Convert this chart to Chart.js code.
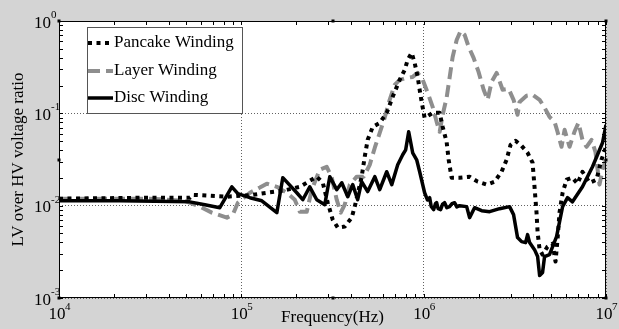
<!DOCTYPE html>
<html><head><meta charset="utf-8">
<script src="https://cdn.jsdelivr.net/npm/chart.js@4/dist/chart.umd.min.js"></script>
<style>
html,body{margin:0;padding:0;background:#d4d4d4;overflow:hidden;}
#wrap{width:619px;height:329px;position:relative;}
</style></head><body>
<div id="wrap"><canvas id="c" width="619" height="329"></canvas></div>
<script>
// ---- data (frequency in Hz, LV/HV voltage ratio) ----
const seriesNames = ['Pancake Winding', 'Layer Winding', 'Disc Winding'];
const xDecades = [1e4, 1e5, 1e6, 1e7];
const yDecades = [1e-3, 1e-2, 1e-1, 1];
const xTitle = 'Frequency(Hz)';
const yTitle = 'LV over HV voltage ratio';

const pancakePoints = [
 [1e4,0.0119],[3.15e4,0.0122],[5.22e4,0.0122],[5.42e4,0.0131],[8.33e4,0.0125],[1.156e5,0.0131],
 [1.38e5,0.0138],[1.688e5,0.0145],[2.093e5,0.0160],[2.592e5,0.0206],[2.797e5,0.0177],[2.978e5,0.01077],
 [3.17e5,0.00706],[3.38e5,0.00578],[3.69e5,0.00593],[4.029e5,0.00742],[4.188e5,0.00976],[4.571e5,0.0206],
 [4.751e5,0.0339],[4.932e5,0.0517],[5.26e5,0.0715],[5.741e5,0.0789],[6.27e5,0.1012],[6.761e5,0.151],
 [7.383e5,0.230],[7.869e5,0.295],[8.17e5,0.379],[8.591e5,0.451],[8.925e5,0.352],[9.275e5,0.248],
 [9.507e5,0.180],[9.75e5,0.133],[1.012e6,0.0894],[1.079e6,0.0964],[1.12e6,0.1012],[1.224e6,0.1012],
 [1.271e6,0.0715],[1.336e6,0.0492],[1.371e6,0.0314],[1.423e6,0.0201],[1.574e6,0.0201],[1.786e6,0.0206],
 [1.977e6,0.0182],[2.213e6,0.0169],[2.449e6,0.0182],[2.675e6,0.0233],[2.849e6,0.0314],[2.997e6,0.0457],
 [3.192e6,0.0504],[3.443e6,0.0445],[3.715e6,0.0374],[3.956e6,0.0292],[4.055e6,0.0160],[4.159e6,0.0084],
 [4.217e6,0.00511],[4.325e6,0.00334],[4.488e6,0.00295],[4.779e6,0.0036],[5.093e6,0.00388],[5.286e6,0.00248],
 [5.421e6,0.00429],[5.56e6,0.0084],[5.781e6,0.0138],[6.08e6,0.0191],[6.548e6,0.0201],[6.98e6,0.0173],
 [7.43e6,0.0233],[8.13e6,0.0177],[8.87e6,0.0191],[9.44e6,0.0314],[1e7,0.0434]
];

const layerPoints = [
 [1e4,0.0119],[3.15e4,0.0119],[4.9e4,0.0113],[5.92e4,0.00976],[6.89e4,0.0084],[8.33e4,0.00742],
 [8.98e4,0.0080],[9.57e4,0.01077],[1.114e5,0.0138],[1.263e5,0.0157],[1.38e5,0.0173],[1.566e5,0.0160],
 [1.775e5,0.0138],[1.964e5,0.0116],[2.093e5,0.0086],[2.285e5,0.0086],[2.434e5,0.0149],[2.692e5,0.0245],
 [2.94e5,0.0264],[3.134e5,0.0201],[3.335e5,0.0116],[3.51e5,0.0084],[3.69e5,0.01025],[3.934e5,0.0169],
 [4.295e5,0.0206],[4.69e5,0.0206],[5.06e5,0.0277],[5.395e5,0.0424],[5.741e5,0.0615],[6.111e5,0.0894],
 [6.51e5,0.140],[6.935e5,0.203],[7.383e5,0.230],[8.068e5,0.242],[8.705e5,0.248],[9.275e5,0.274],
 [9.88e5,0.230],[1.052e6,0.167],[1.12e6,0.1175],[1.178e6,0.0809],[1.224e6,0.0631],[1.271e6,0.0964],
 [1.336e6,0.147],[1.387e6,0.242],[1.442e6,0.408],[1.517e6,0.623],[1.595e6,0.780],[1.678e6,0.706],
 [1.765e6,0.524],[1.879e6,0.398],[2.0e6,0.281],[2.133e6,0.180],[2.243e6,0.140],[2.358e6,0.219],
 [2.512e6,0.274],[2.71e6,0.180],[2.924e6,0.184],[3.112e6,0.140],[3.273e6,0.0964],[3.357e6,0.133],
 [3.665e6,0.155],[3.956e6,0.159],[4.325e6,0.140],[4.545e6,0.1205],[4.899e6,0.0917],[5.224e6,0.0809],
 [5.421e6,0.0631],[5.702e6,0.0434],[5.929e6,0.0663],[6.31e6,0.0434],[6.714e6,0.0631],[7.063e6,0.0789],
 [7.43e6,0.0517],[7.82e6,0.0434],[8.33e6,0.0517],[8.75e6,0.0383],[9.21e6,0.0169],[9.57e6,0.0245],[1e7,0.0314]
];

const discPoints = [
 [1e4,0.0113],[2.16e4,0.0113],[5.22e4,0.0110],[6.31e4,0.01025],[7.62e4,0.00951],[8.87e4,0.0160],
 [9.57e4,0.0135],[1.114e5,0.0122],[1.295e5,0.0113],[1.566e5,0.0084],[1.688e5,0.0201],[2.014e5,0.0138],
 [2.173e5,0.0116],[2.373e5,0.0160],[2.592e5,0.0116],[2.869e5,0.01025],[3.055e5,0.0206],[3.335e5,0.0149],
 [3.555e5,0.0177],[3.835e5,0.0125],[4.083e5,0.0169],[4.346e5,0.0116],[4.571e5,0.0182],[4.932e5,0.0142],
 [5.395e5,0.0206],[5.741e5,0.0149],[6.27e5,0.0233],[6.683e5,0.0169],[7.206e5,0.0277],[7.674e5,0.0356],
 [7.969e5,0.0403],[8.277e5,0.0631],[8.705e5,0.0374],[9.155e5,0.0314],[9.507e5,0.0233],[1.012e6,0.0138],
 [1.05e6,0.0115],[1.079e6,0.0122],[1.1e6,0.0098],[1.135e6,0.00906],[1.16e6,0.0105],[1.178e6,0.01077],
 [1.2e6,0.0093],[1.239e6,0.00906],[1.27e6,0.0104],[1.303e6,0.01077],[1.34e6,0.0095],[1.387e6,0.00976],
 [1.43e6,0.0105],[1.479e6,0.01077],[1.52e6,0.0097],[1.574e6,0.0100],[1.721e6,0.00976],[1.786e6,0.00742],
 [1.902e6,0.00951],[2.08e6,0.00883],[2.301e6,0.00861],[2.608e6,0.00928],[2.959e6,0.00976],[3.112e6,0.0080],
 [3.273e6,0.00451],[3.443e6,0.00408],[3.622e6,0.00398],[3.715e6,0.00486],[3.81e6,0.00398],[4.055e6,0.00334],
 [4.217e6,0.00281],[4.325e6,0.00175],[4.488e6,0.00189],[4.603e6,0.00281],[4.899e6,0.00295],[5.356e6,0.00462],
 [5.781e6,0.00976],[6.151e6,0.0122],[6.548e6,0.0110],[7.43e6,0.0160],[8.433e6,0.0264],[9.57e6,0.048],[1e7,0.0751]
];

// ---- helpers ----
const SERIF = "'Liberation Serif', 'Times New Roman', 'DejaVu Serif', serif";
function isDecade(v){ const l = Math.log10(v); return Math.abs(l - Math.round(l)) < 1e-9; }
function expOf(v){ return String(Math.round(Math.log10(v))); }
function allTicks(decades){
  const t = [];
  for (let i = 0; i < decades.length; i++) {
    t.push({value: decades[i]});
    if (i < decades.length - 1) for (let k = 2; k <= 9; k++) t.push({value: decades[i] * k});
  }
  return t;
}
const gridColor = (ctx) => (ctx.tick && isDecade(ctx.tick.value)) ? 'rgba(70,70,70,0.85)' : 'rgba(0,0,0,0)';

const decor = {
  id: 'decor',
  beforeDraw(chart) {
    const {ctx, chartArea: a} = chart;
    ctx.save();
    ctx.fillStyle = '#d4d4d4';
    ctx.fillRect(0, 0, chart.width, chart.height);
    ctx.fillStyle = '#ffffff';
    ctx.fillRect(a.left, a.top, a.right - a.left, a.bottom - a.top);
    ctx.restore();
  },
  afterDraw(chart) {
    const {ctx, chartArea: a} = chart;
    const xs = chart.scales.x, ys = chart.scales.y;
    ctx.save();
    ctx.setLineDash([]);
    ctx.strokeStyle = '#000';
    ctx.lineWidth = 1;
    // inward tick marks on all four sides
    ctx.beginPath();
    xs.ticks.forEach(t => {
      const px = Math.round(xs.getPixelForValue(t.value)) + 0.5;
      ctx.moveTo(px, a.bottom); ctx.lineTo(px, a.bottom - 4);
      ctx.moveTo(px, a.top); ctx.lineTo(px, a.top + 4);
    });
    ys.ticks.forEach(t => {
      const py = Math.round(ys.getPixelForValue(t.value)) + 0.5;
      ctx.moveTo(a.left, py); ctx.lineTo(a.left + 4, py);
      ctx.moveTo(a.right, py); ctx.lineTo(a.right - 4, py);
    });
    ctx.stroke();
    // plot frame
    ctx.strokeRect(a.left + 0.5, a.top + 0.5, a.right - a.left - 1, a.bottom - a.top - 1);
    // selection handles
    ctx.fillStyle = '#000';
    const mx = Math.round((a.left + a.right) / 2), my = Math.round((a.top + a.bottom) / 2);
    [[a.left, a.top],[mx, a.top],[a.right, a.top],[a.left, my],[a.right, my],[a.left, a.bottom],[mx, a.bottom],[a.right, a.bottom]]
      .forEach(([hx, hy]) => ctx.fillRect(hx - 1.5, hy - 1.5, 3, 3));

    // decade tick labels: "10" with raised exponent, placed by the scales
    ctx.fillStyle = '#000';
    ctx.textBaseline = 'alphabetic';
    xDecades.forEach(d => {
      const px = xs.getPixelForValue(d);
      ctx.font = '17px ' + SERIF;
      ctx.textAlign = 'center';
      ctx.fillText('10', px - 2, a.bottom + 21);
      ctx.font = '11px ' + SERIF;
      ctx.textAlign = 'left';
      ctx.fillText(expOf(d), px + 6, a.bottom + 12);
    });
    yDecades.forEach(d => {
      const py = ys.getPixelForValue(d);
      ctx.font = '17px ' + SERIF;
      ctx.textAlign = 'right';
      ctx.fillText('10', a.left - 8, py + 6.5);
      ctx.font = '11px ' + SERIF;
      ctx.textAlign = 'left';
      ctx.fillText(expOf(d), a.left - 8, py - 3);
    });

    // legend box
    const L = {x: a.left + 28, y: a.top + 6, w: 155, h: 86};
    ctx.fillStyle = '#fff';
    ctx.fillRect(L.x, L.y, L.w, L.h);
    ctx.strokeStyle = '#555';
    ctx.strokeRect(L.x + 0.5, L.y + 0.5, L.w, L.h);
    const rowY = [L.y + 16, L.y + 44, L.y + 71];
    chart.data.datasets.forEach((ds, i) => {
      const y = rowY[i];
      ctx.save();
      ctx.strokeStyle = ds.borderColor;
      ctx.lineWidth = ds.borderWidth;
      ctx.setLineDash(ds.borderDash || []);
      ctx.lineCap = 'butt';
      ctx.beginPath();
      ctx.moveTo(L.x + 1, y); ctx.lineTo(L.x + 26, y);
      ctx.stroke();
      ctx.restore();
      ctx.fillStyle = '#000';
      ctx.font = '17px ' + SERIF;
      ctx.textBaseline = 'middle';
      ctx.textAlign = 'left';
      ctx.fillText(ds.label, L.x + 27, y);
    });
    ctx.restore();
  }
};

new Chart(document.getElementById('c'), {
  type: 'line',
  data: {
    datasets: [
      {label: seriesNames[0], data: pancakePoints.map(([x, y]) => ({x, y})), borderColor: '#000000',
       borderWidth: 4, borderDash: [4, 4.5], borderJoinStyle: 'round', pointRadius: 0, tension: 0, fill: false, order: 1},
      {label: seriesNames[1], data: layerPoints.map(([x, y]) => ({x, y})), borderColor: '#8e8e8e',
       borderWidth: 4, borderDash: [12, 6], borderJoinStyle: 'round', pointRadius: 0, tension: 0, fill: false, order: 2},
      {label: seriesNames[2], data: discPoints.map(([x, y]) => ({x, y})), borderColor: '#000000',
       borderWidth: 3.5, borderJoinStyle: 'round', pointRadius: 0, tension: 0, fill: false, order: 0}
    ]
  },
  options: {
    responsive: false,
    animation: false,
    devicePixelRatio: 1,
    layout: {padding: {left: 0, top: 21, right: 13, bottom: 0}},
    plugins: {legend: {display: false}, tooltip: {enabled: false}},
    scales: {
      x: {
        type: 'logarithmic', min: xDecades[0], max: xDecades[xDecades.length - 1],
        afterBuildTicks: s => { s.ticks = allTicks(xDecades); },
        afterFit: s => { s.height = 31; },
        ticks: {display: false, autoSkip: false},
        grid: {drawTicks: false, color: gridColor, lineWidth: 1},
        border: {display: false, dash: [1, 2]},
        title: {display: true, text: xTitle, color: '#000', font: {family: SERIF, size: 17},
                padding: {top: 0, bottom: 1}}
      },
      y: {
        type: 'logarithmic', min: yDecades[0], max: yDecades[yDecades.length - 1],
        afterBuildTicks: s => { s.ticks = allTicks(yDecades); },
        afterFit: s => { s.width = 59; },
        ticks: {display: false, autoSkip: false},
        grid: {drawTicks: false, color: gridColor, lineWidth: 1},
        border: {display: false, dash: [1, 2]},
        title: {display: true, text: yTitle, color: '#000', font: {family: SERIF, size: 17},
                padding: {top: 8, bottom: 0}}
      }
    }
  },
  plugins: [decor]
});
</script>
</body></html>
